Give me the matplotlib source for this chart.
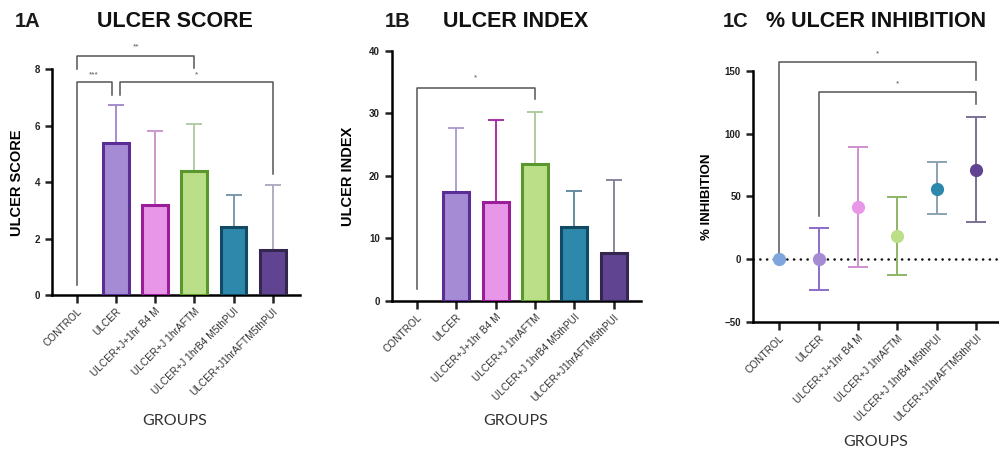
import numpy as np
import matplotlib
matplotlib.use("Agg")
import matplotlib.pyplot as plt

plt.rcParams['font.family'] = ['Liberation Sans', 'DejaVu Sans']

groups = ["CONTROL", "ULCER", "ULCER+J+1hr B4 M", "ULCER+J 1hrAFTM",
          "ULCER+J 1hrB4 M5thPUI", "ULCER+J1hrAFTM5thPUI"]

# 1A ulcer score (mean, upper SD end)
score_mean = [0, 5.4, 3.2, 4.4, 2.4, 1.6]
score_top = [0, 6.75, 5.8, 6.07, 3.55, 3.9]

# 1B ulcer index
index_mean = [0, 17.4, 15.9, 21.9, 11.9, 7.7]
index_top = [0, 27.6, 28.9, 30.3, 17.6, 19.4]

# 1C % inhibition (mean, lower, upper)
inh_mean = [0, 0, 41.8, 18.4, 56.1, 71.0]
inh_low = [0, -25.0, -6.1, -12.8, 36.2, 29.8]
inh_high = [0, 24.5, 89.6, 49.2, 77.1, 113.0]

face = ['#7FA6DC', '#A58BD4', '#E896E8', '#BADF88', '#2E88AC', '#604492']
edge = ['#7FA6DC', '#5A2E94', '#9A1E9A', '#5A982E', '#134A63', '#33264F']
errc_bar = ['#7FA6DC', '#9E84CC', '#C890C8', '#B0C8A0', '#6E92A8', '#ACA6BC']
errc_b = ['#7FA6DC', '#AA98CC', '#A020A0', '#A8C898', '#5C8498', '#807C94']
errc_pt = ['#7FA6DC', '#8A6CCA', '#CF90CF', '#8CB468', '#8AA2B0', '#7C7098']

fig = plt.figure(figsize=(9.99, 4.5), dpi=100)
ax1 = fig.add_axes([0.052, 0.344, 0.248, 0.502])
ax2 = fig.add_axes([0.392, 0.331, 0.250, 0.556])
ax3 = fig.add_axes([0.7535, 0.285, 0.2465, 0.557])

x = np.arange(len(groups))


def style(ax):
    for s in ['top', 'right']:
        ax.spines[s].set_visible(False)
    for s in ['left', 'bottom']:
        ax.spines[s].set_linewidth(1.8)
    ax.tick_params(axis='both', width=1.8, length=5, labelsize=7, colors='#222')
    ax.tick_params(axis='x', length=6, pad=2)
    ax.set_xticks(x)
    ax.set_xticklabels(groups, rotation=45, ha='right', rotation_mode='anchor',
                       fontsize=7.3, color='#333')
    for t in ax.get_yticklabels():
        t.set_fontweight('bold')


def bracket(ax, x0, x1, y, y0, y1, label, ly, lx=None, color='#555'):
    ax.plot([x0, x0, x1, x1], [y0, y, y, y1], color=color, lw=1.1, clip_on=False)
    if lx is None:
        lx = (x0 + x1) / 2
    ax.text(lx, ly, label, ha='center', va='center', fontsize=6, color='#555')


def bars(ax, mean, top, errc):
    for i in range(len(groups)):
        if mean[i] == 0:
            continue
        ax.bar(x[i], mean[i], width=0.66, color=face[i], edgecolor=edge[i], linewidth=2.2, zorder=3)
        ax.errorbar(x[i], mean[i], yerr=[[0], [top[i] - mean[i]]], color=errc[i],
                    capsize=6, elinewidth=1.3, capthick=1.3, zorder=2)


# 1A
bars(ax1, score_mean, score_top, errc_bar)
ax1.set_xlim(-0.64, 5.69)
ax1.set_ylim(0, 8)
ax1.set_yticks([0, 2, 4, 6, 8])
style(ax1)
ax1.set_ylabel("ULCER SCORE", fontsize=10.5, fontweight='bold', labelpad=8)
bracket(ax1, 0, 3, 8.46, 8.0, 8.05, "**", 8.78)
bracket(ax1, 0, 0.9, 7.54, 0.35, 7.1, "***", 7.79, lx=0.43)
bracket(ax1, 1.1, 5, 7.54, 7.1, 4.3, "*", 7.79, lx=3.05)

# 1B
bars(ax2, index_mean, index_top, errc_b)
ax2.set_xlim(-0.64, 5.70)
ax2.set_ylim(0, 40)
ax2.set_yticks([0, 10, 20, 30, 40])
style(ax2)
ax2.set_ylabel("ULCER INDEX", fontsize=10.5, fontweight='bold', labelpad=10)
bracket(ax2, 0, 3, 34.1, 1.9, 32.3, "*", 35.6)

# 1C
ax3.axhline(0, color='#111', lw=1.8, linestyle=(0, (0.1, 2.6)), dash_capstyle='round', zorder=1)
for i in range(len(groups)):
    lo = inh_mean[i] - inh_low[i]
    hi = inh_high[i] - inh_mean[i]
    if lo or hi:
        ax3.errorbar(x[i], inh_mean[i], yerr=[[lo], [hi]], color=errc_pt[i],
                     capsize=7, elinewidth=1.4, capthick=1.4, zorder=2)
    ax3.plot(x[i], inh_mean[i], 'o', color=face[i], markersize=8.5, zorder=3)
ax3.set_xlim(-0.67, 5.58)
ax3.set_ylim(-50, 150)
ax3.set_yticks([-50, 0, 50, 100, 150])
style(ax3)
ax3.set_ylabel("% INHIBITION", fontsize=9.5, fontweight='bold', labelpad=8)
bracket(ax3, 0, 5, 157.4, 3.2, 142.8, "*", 164)
bracket(ax3, 1, 5, 133, 34.3, 123.4, "*", 140)

# titles and group labels
for tx, tag, cx, name in [(0.015, "1A", 0.175, "ULCER SCORE"),
                          (0.385, "1B", 0.516, "ULCER INDEX"),
                          (0.723, "1C", 0.877, "% ULCER INHIBITION")]:
    fig.text(tx, 0.953, tag, fontsize=14.5, fontweight='bold', color='#1a1a1a', va='center')
    fig.text(cx, 0.953, name, fontsize=15.5, fontweight='bold', color='#111', ha='center', va='center')

fig.text(0.175, 0.065, "GROUPS", fontsize=11.5, color='#333', ha='center', va='center', family='Lato')
fig.text(0.516, 0.065, "GROUPS", fontsize=11.5, color='#333', ha='center', va='center', family='Lato')
fig.text(0.877, 0.018, "GROUPS", fontsize=11.5, color='#333', ha='center', va='center', family='Lato')

fig.savefig("out.png", dpi=100)
